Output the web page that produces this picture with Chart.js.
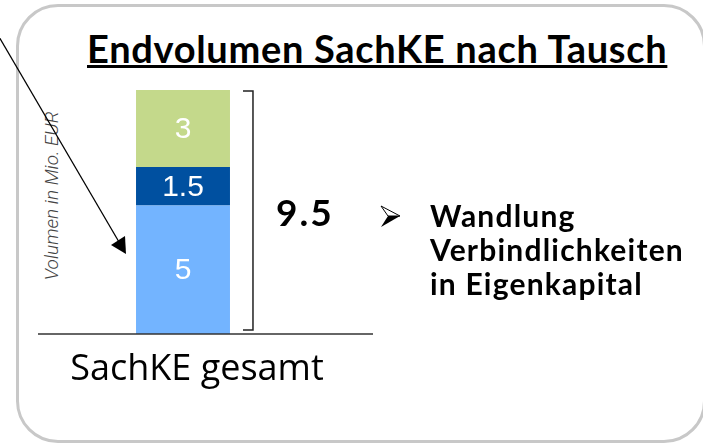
<!DOCTYPE html>
<html>
<head>
<meta charset="utf-8">
<script src="https://cdn.jsdelivr.net/npm/chart.js@4.4.1/dist/chart.umd.min.js"></script>
<style>
  html, body { margin: 0; padding: 0; background: #fff; }
  #wrap { position: relative; width: 703px; height: 445px; overflow: hidden; }
  #frame {
    position: absolute; left: 16px; top: 4px; width: 690px; height: 439px;
    box-sizing: border-box; border: 3px solid #c8c8c8; border-radius: 42px;
  }
  #chart { position: absolute; left: 0; top: 0; }
  #title {
    position: absolute; left: 87px; top: 25px; white-space: nowrap;
    font: bold 38px Lato, sans-serif; letter-spacing: 0.7px; color: #000;
    text-decoration: underline; text-underline-offset: 2px; text-decoration-thickness: 3px;
  }
  #ytitle {
    position: absolute; left: 51px; top: 196px; white-space: nowrap;
    transform: translate(-50%, -50%) rotate(-90deg);
    font: italic 300 19px Roboto, sans-serif; color: #444;
  }
  #note {
    position: absolute; left: 430px; top: 198px; white-space: nowrap;
    font: bold 30px Lato, sans-serif; letter-spacing: 1.2px; line-height: 34px; color: #000;
  }
  #arrow { position: absolute; left: 0; top: 0; }
</style>
</head>
<body>
<div id="wrap">
  <div id="frame"></div>
  <div id="title">Endvolumen SachKE nach Tausch</div>
  <div id="ytitle">Volumen in Mio. EUR</div>
  <canvas id="chart" width="703" height="445"></canvas>
  <div id="note">Wandlung<br>Verbindlichkeiten<br>in Eigenkapital</div>
  <svg id="arrow" width="703" height="445">
    <line x1="-2" y1="35" x2="119" y2="242" stroke="#000" stroke-width="1.3"/>
    <polygon points="126,254 111,245 125,236" fill="#000"/>
    <!-- bullet arrowhead -->
    <polygon points="400,216 381,206 388,216" fill="none" stroke="#000" stroke-width="1"/>
    <polygon points="400,216 388,216 381,227" fill="#000"/>
  </svg>
</div>
<script>
// Data
const categories = ['SachKE gesamt'];
const segmentNames = ['Verbindlichkeiten', 'Tausch', 'Neu'];
const segmentValues = [5, 1.5, 3];
const segmentColors = ['#73b4ff', '#0050a0', '#c4d98b'];

const total = segmentValues.reduce((a, b) => a + b, 0);

// Value labels inside the stacked segments + bracket with total
const stackLabels = {
    id: 'stackLabels',
    afterDatasetsDraw(chart) {
        const ctx = chart.ctx;
        ctx.save();
        ctx.fillStyle = '#fff';
        ctx.font = '30px "Liberation Sans", Arial, sans-serif';
        ctx.textAlign = 'center';
        ctx.textBaseline = 'middle';
        chart.data.datasets.forEach((ds, i) => {
            const bar = chart.getDatasetMeta(i).data[0];
            ctx.fillText(String(ds.data[0]), bar.x, (bar.y + bar.base) / 2 + 1);
        });

        // bracket next to the bar
        const bar = chart.getDatasetMeta(0).data[0];
        const yScale = chart.scales.y;
        const bx = bar.x + bar.width / 2 + 23;
        const yTop = yScale.getPixelForValue(total) + 1;
        const yBot = yScale.getPixelForValue(0) - 4;
        ctx.strokeStyle = '#222';
        ctx.lineWidth = 1.5;
        ctx.beginPath();
        ctx.moveTo(bx - 10, yTop);
        ctx.lineTo(bx, yTop);
        ctx.lineTo(bx, yBot);
        ctx.lineTo(bx - 10, yBot);
        ctx.stroke();

        ctx.fillStyle = '#000';
        ctx.font = 'bold 37px Lato, sans-serif';
        ctx.letterSpacing = '2px';
        ctx.textAlign = 'left';
        ctx.fillText(String(total), bx + 23, (yTop + yBot) / 2 + 4);
        ctx.letterSpacing = '0px';

        // baseline, longer than the plot area
        const area = chart.chartArea;
        ctx.strokeStyle = '#333';
        ctx.lineWidth = 1.5;
        ctx.beginPath();
        ctx.moveTo(area.left, area.bottom);
        ctx.lineTo(area.right + 45, area.bottom);
        ctx.stroke();
        ctx.restore();
    }
};

new Chart(document.getElementById('chart'), {
    type: 'bar',
    data: {
        labels: categories,
        datasets: segmentValues.map((v, i) => ({
            label: segmentNames[i],
            data: [v],
            backgroundColor: segmentColors[i],
            borderWidth: 0,
            categoryPercentage: 1,
            barPercentage: 0.324
        }))
    },
    options: {
        responsive: false,
        animation: false,
        layout: { padding: { left: 38, right: 375, top: 90, bottom: 0 } },
        plugins: { legend: { display: false }, tooltip: { enabled: false } },
        scales: {
            x: {
                stacked: true,
                grid: { display: false, drawTicks: false },
                border: { display: false },
                ticks: {
                    color: '#000',
                    font: { family: '"Open Sans"', size: 36 },
                    padding: 14,
                    labelOffset: 14
                },
                afterFit: (scale) => { scale.height = 111; }
            },
            y: {
                stacked: true,
                display: false,
                min: 0,
                max: total
            }
        }
    },
    plugins: [stackLabels]
});
</script>
</body>
</html>
